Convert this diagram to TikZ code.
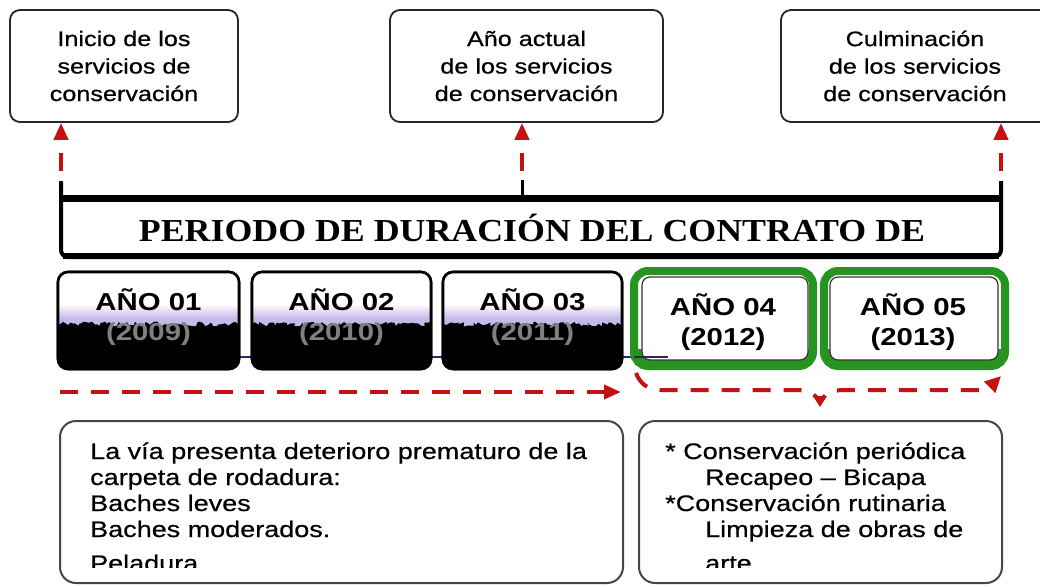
\documentclass[tikz,border=0pt]{standalone}
\usepackage{fontspec}
\setmainfont{Liberation Sans}[FakeStretch=1.2]
\newfontfamily\bodyfont{Liberation Sans}[FakeStretch=1.2,FakeBold=0.6]
\newfontfamily\titlefont{Liberation Serif}[FakeStretch=1.12]
\usetikzlibrary{arrows.meta,decorations.pathmorphing}
\definecolor{redarr}{RGB}{196,18,18}
\definecolor{grn}{RGB}{38,148,30}
\definecolor{navyline}{RGB}{40,40,100}
\definecolor{lav}{RGB}{200,185,235}
\definecolor{boxgray}{RGB}{70,70,70}
\begin{document}
\begin{tikzpicture}[x=1pt,y=-1pt,
  topbox/.style={draw=black!85,line width=1.8,rounded corners=10,fill=white,align=center,font=\bodyfont\fontsize{21}{27.5}\selectfont,inner sep=0},
  yearbox/.style={draw=black,line width=2.6,rounded corners=10,inner sep=0},
  yeartxt/.style={align=center,inner sep=0,font=\fontsize{24.5}{30}\selectfont\bfseries},
  grnout/.style={draw=grn,line width=8,rounded corners=14,inner sep=0},
  grnin/.style={draw=black!80,line width=1.2,rounded corners=8,fill=white,inner sep=0},
  lowbox/.style={draw=boxgray,line width=2,rounded corners=16,inner sep=0},
  lowtxt/.style={anchor=base west,inner sep=0,font=\bodyfont\fontsize{22.5}{26}\selectfont},
  reddash/.style={draw=redarr,line width=4,dash pattern=on 18pt off 13pt},
  redtip/.style={-{Triangle[length=17pt,width=14pt]}},
]
\useasboundingbox (0,0) rectangle (1040,586);
\fill[white] (0,0) rectangle (1040,586);

% top boxes
\node[topbox,minimum width=228,minimum height=112] (b1) at (124,66) {Inicio de los\\servicios de\\conservación};
\node[topbox,minimum width=273,minimum height=112] (b2) at (526.5,66) {Año actual\\de los servicios\\de conservación};
\node[topbox,minimum width=268,minimum height=112] (b3) at (915,66) {Culminación\\de los servicios\\de conservación};

% contract bar
\draw[line width=4,rounded corners=7] (61,181) -- (61,257) -- (1001,257) -- (1001,181);
\draw[line width=6] (63,256) -- (999,256);
\draw[line width=7] (59,198) -- (1003,198);
\draw[line width=3] (522,180) -- (522,198);
\node[inner sep=0,font=\titlefont\bfseries\fontsize{32}{36}\selectfont] (title) at (532,228) {PERIODO DE DURACIÓN DEL CONTRATO DE};

% arrows up to the top boxes
\coordinate (s1) at (61,171);
\coordinate (s2) at (522,171);
\coordinate (s3) at (1001,171);
\draw[reddash,redtip] (s1) -- (s1 |- b1.south);
\draw[reddash,redtip] (s2) -- (s2 |- b2.south);
\draw[reddash,redtip] (s3) -- (s3 |- b3.south);

% timeline line (mostly hidden behind the dark part of the year boxes)
\coordinate (n1) at (58,357);
\coordinate (n2) at (668,357);
\draw[navyline,line width=1.5] (n1) -- (n2);

% years 1-3
\node[yearbox,minimum width=181,minimum height=97] (y1) at (148.5,320.5) {};
\node[yearbox,minimum width=179,minimum height=97] (y2) at (341.5,320.5) {};
\node[yearbox,minimum width=179,minimum height=97] (y3) at (532.5,320.5) {};
\pgfmathsetseed{7}
\foreach \cx/\w in {148.5/181,341.5/179,532.5/179}{
  \begin{scope}
    \clip[rounded corners=10] (\cx-\w/2,272) rectangle (\cx+\w/2,369);
    \fill[white] (\cx-\w/2,272) rectangle (\cx+\w/2,369);
    \shade[top color=white,bottom color=lav] (\cx-\w/2,304) rectangle (\cx+\w/2,318);
    \fill[lav] (\cx-\w/2,317.5) rectangle (\cx+\w/2,327);
    \fill[black,decorate,decoration={random steps,segment length=2.5pt,amplitude=2.5pt}]
      (\cx-\w/2-6,324) -- (\cx+\w/2+6,324) -- (\cx+\w/2+6,376) -- (\cx-\w/2-6,376) -- cycle;
  \end{scope}
  \draw[draw=black,line width=2.6,rounded corners=10] (\cx-\w/2,272) rectangle (\cx+\w/2,369);
}
\node[yeartxt] (t1) at (148.5,317) {AÑO 01\\{\color{black!50}(2009)}};
\node[yeartxt] (t2) at (341.5,317) {AÑO 02\\{\color{black!50}(2010)}};
\node[yeartxt] (t3) at (532.5,317) {AÑO 03\\{\color{black!50}(2011)}};

% years 4-5 (green)
\node[grnout,minimum width=179,minimum height=95] (g4) at (723.5,318.5) {};
\node[grnout,minimum width=181,minimum height=95] (g5) at (914.5,318.5) {};
\begin{scope}
  \clip[rounded corners=14] (634,271) rectangle (813,366) (824,271) rectangle (1005,366);
  \fill[grn] (630,349) rectangle (1010,370);
\end{scope}
\node[grnin,minimum width=166,minimum height=83] (g4i) at (725,318.5) {};
\node[grnin,minimum width=168,minimum height=83] (g5i) at (914,318.5) {};
\node[yeartxt] (t4) at (723,322) {AÑO 04\\(2012)};
\node[yeartxt] (t5) at (913,322) {AÑO 05\\(2013)};
\coordinate (n3) at (634,357);
\draw[navyline,line width=1.5] (n3) -- (n2);

% red horizontal arrows
\coordinate (h1) at (60,392);
\coordinate (h2) at (621,392);
\draw[reddash,redtip] (h1) -- (h2);
\coordinate (c1) at (636,373);
\coordinate (c2) at (1001,376);
\draw[reddash,-{Triangle[length=16pt,width=15pt]}] (c1) to[out=-70,in=180] (660,390) -- (796,390)
  to[out=0,in=120] (820,402) to[out=60,in=180] (844,390) -- (978,390) to[out=0,in=225] (c2);
\fill[redarr] (813,396) -- (827,396) -- (820,407) -- cycle;

% bottom boxes
\node[lowbox,minimum width=563,minimum height=162] (L) at (341.5,502) {};
\node[lowbox,minimum width=363,minimum height=162] (R) at (820.5,502) {};
\begin{scope}
  \clip (0,0) rectangle (1040,567);
  \node[lowtxt] (l1) at (90,459) {La vía presenta deterioro prematuro de la};
  \node[lowtxt] (l2) at (90,485) {carpeta de rodadura:};
  \node[lowtxt] (l3) at (90,511) {Baches leves};
  \node[lowtxt] (l4) at (90,537) {Baches moderados.};
  \node[lowtxt] (l5) at (90,571) {Peladura};
  \node[lowtxt] (r1) at (665,459) {* Conservación periódica};
  \node[lowtxt] (r2) at (705,485) {Recapeo – Bicapa};
  \node[lowtxt] (r3) at (665,511) {*Conservación rutinaria};
  \node[lowtxt] (r4) at (705,537) {Limpieza de obras de};
  \node[lowtxt] (r5) at (705,571) {arte};
\end{scope}
\end{tikzpicture}
\end{document}
